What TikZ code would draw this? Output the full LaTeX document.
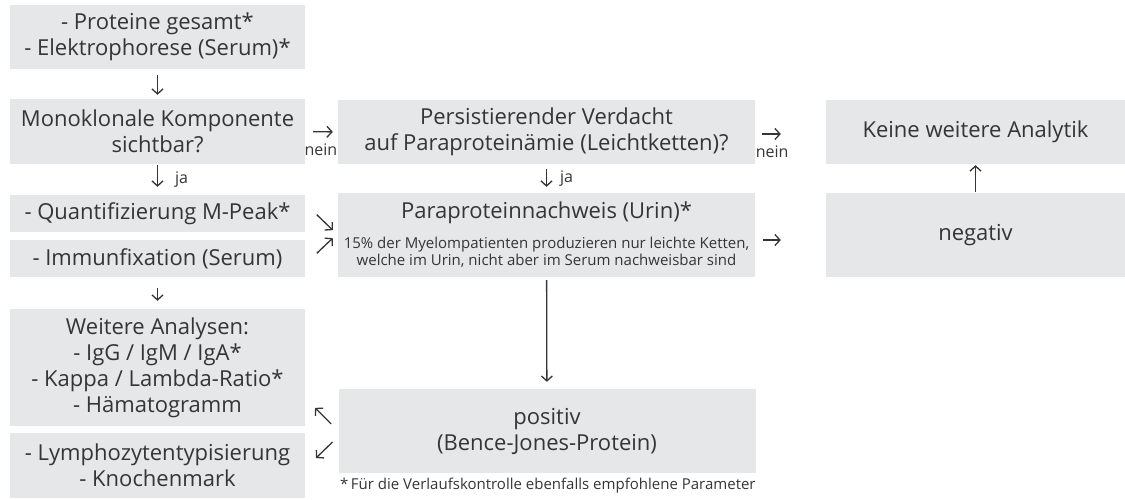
\documentclass[tikz,border=0pt]{standalone}
\usepackage{fontspec}
\setmainfont{Open Sans}
\usetikzlibrary{arrows.meta}
\definecolor{boxgray}{HTML}{E6E7E8}
\definecolor{inkgray}{HTML}{353535}
\tikzset{
  box/.style={fill=boxgray, text=inkgray, inner sep=0pt, align=center,
    font=\fontsize{22}{26}\selectfont},
  pfeil/.style={-{Straight Barb[length=5pt,width=11pt]}, line width=1.3pt, draw=inkgray},
  klein/.style={text=inkgray, inner sep=0pt, font=\fontsize{16}{18}\selectfont}
}
\begin{document}
\begin{tikzpicture}[x=1pt,y=-1pt]
    \useasboundingbox (0,0) rectangle (1125,499);
    % linke Spalte
    \node[box, minimum width=295pt, minimum height=64pt] (prot) at (157.5,37) {- Proteine gesamt*\\- Elektrophorese (Serum)*};
    \node[box, minimum width=295pt, minimum height=65pt] (mono) at (157.5,131.5) {Monoklonale Komponente\\sichtbar?};
    \node[box, minimum width=295pt, minimum height=37pt] (quant) at (157.5,213.5) {- Quantifizierung M-Peak*};
    \node[box, minimum width=295pt, minimum height=37pt] (immun) at (157.5,258.5) {- Immunfixation (Serum)};
    \node[box, minimum width=295pt, minimum height=117pt] (weitere) at (157.5,367.5) {Weitere Analysen:\\- IgG / IgM / IgA*\\- Kappa / Lambda-Ratio*\\- Hämatogramm};
    \node[box, minimum width=295pt, minimum height=65pt] (lympho) at (157.5,465.5) {- Lymphozytentypisierung\\- Knochenmark};
    % mittlere Spalte
    \node[box, minimum width=417pt, minimum height=64pt] (verdacht) at (546.5,132) {Persistierender Verdacht\\auf Paraproteinämie (Leichtketten)?};
    \node[box, minimum width=417pt, minimum height=84pt] (urin) at (546.5,235) {\parbox{417pt}{\centering Paraproteinnachweis (Urin)*\par\vspace{13pt}\fontsize{15}{17}\selectfont 15\% der Myelompatienten produzieren nur leichte Ketten,\\welche im Urin, nicht aber im Serum nachweisbar sind\par}};
    \node[box, minimum width=417pt, minimum height=84pt] (positiv) at (547,431) {positiv\\(Bence-Jones-Protein)};
    % rechte Spalte
    \node[box, minimum width=299pt, minimum height=64pt] (keine) at (975.5,132) {Keine weitere Analytik};
    \node[box, minimum width=299pt, minimum height=84pt] (negativ) at (975.5,235) {negativ};
    \node[klein, anchor=base west, font=\fontsize{15}{17}\selectfont] (fussnote) at (340,489) {*\,Für die Verlaufskontrolle ebenfalls empfohlene Parameter};
    % Pfeile
    \draw[pfeil, shorten <=6pt, shorten >=4pt] (prot) -- (mono);
    \draw[pfeil, shorten <=1pt, shorten >=8pt] (mono) -- node[klein, right=17pt] {ja} (quant);
    \draw[pfeil, shorten <=11pt, shorten >=8pt] (immun) -- (weitere);
    \draw[pfeil, shorten <=8pt, shorten >=5pt] (mono.east) -- node[klein, pos=0.48, below=11pt] {nein} (verdacht.west);
    \draw[pfeil, shorten <=5pt, shorten >=6pt] (verdacht) -- node[klein, right=13pt] {ja} (urin);
    \draw[pfeil, shorten <=7pt, shorten >=45pt] ([yshift=-2pt]verdacht.east) -- node[klein, pos=0.24, below=11pt] {nein} ([yshift=-2pt]keine.west);
    \draw[pfeil, shorten <=8pt, shorten >=45pt] ([yshift=-5pt]urin.east) -- ([yshift=-5pt]negativ.west);
    \draw[pfeil, shorten <=1pt, shorten >=1pt] (negativ) -- (keine);
    \draw[pfeil, shorten <=3pt, shorten >=7pt] (urin) -- (positiv);
    \draw[pfeil, shorten <=16pt, shorten >=7pt] ([yshift=10pt]quant.east) -- (urin.west);
    \draw[pfeil, shorten <=16pt, shorten >=7pt] ([yshift=-5.8pt]immun.east) -- ([yshift=1.7pt]urin.west);
    \draw[pfeil, shorten <=10pt, shorten >=14pt] (positiv.west) -- ([yshift=-30.5pt]weitere.east);
    \draw[pfeil, shorten <=8pt, shorten >=15pt] ([yshift=-5.4pt]positiv.west) -- ([yshift=-3pt]lympho.east);
\end{tikzpicture}
\end{document}
